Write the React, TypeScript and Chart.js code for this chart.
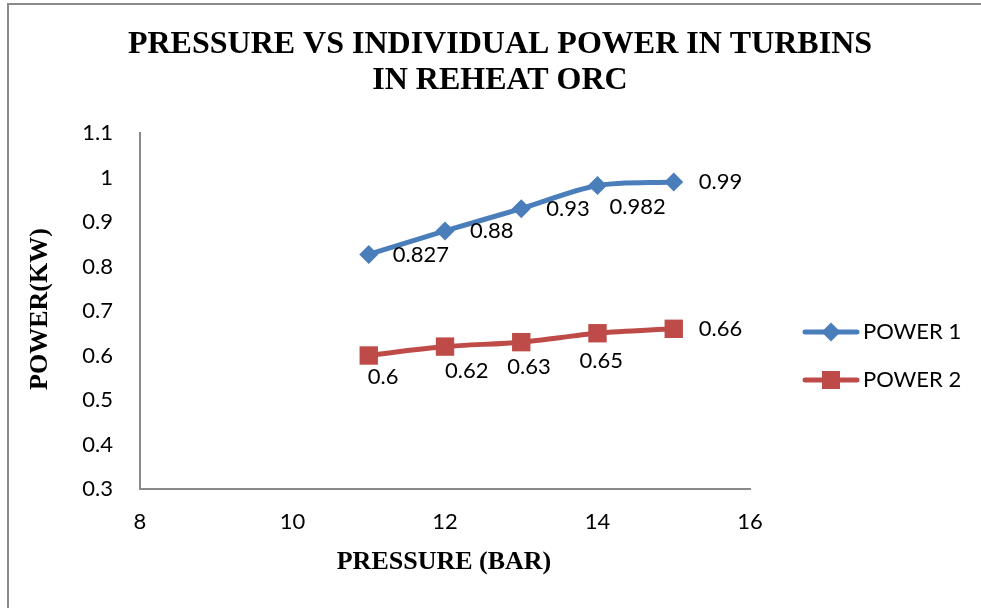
import React, { useEffect, useRef } from "react";
import { Chart, registerables } from "chart.js";

Chart.register(...registerables);

const pressure = [11, 12, 13, 14, 15];
const power1 = [0.827, 0.88, 0.93, 0.982, 0.99];
const power2 = [0.6, 0.62, 0.63, 0.65, 0.66];
const seriesNames = ["POWER 1", "POWER 2"];
const titleLines = ["PRESSURE VS INDIVIDUAL POWER IN TURBINS", "IN REHEAT ORC"];
const xTitle = "PRESSURE (BAR)";
const yTitle = "POWER(KW)";

// label offsets (left edge dx, centre dy) relative to each point, as dragged in the original
const labelOffsets1 = [[24, 0], [25, 0], [25, 0], [12, 21], [25, 0]];
const labelOffsets2 = [[-1, 21], [0, 24], [-14, 25], [-18, 28], [25, 0]];

const BLUE = "#4A7EBB";
const RED = "#BE4B48";
const TICK_FONT = "Lato";
const SERIF = "'Liberation Serif', 'Times New Roman', serif";

const decorPlugin = {
  id: "decor",
  beforeDraw(chart: any) {
    const { ctx, width, height } = chart;
    ctx.save();
    ctx.fillStyle = "#fff";
    ctx.fillRect(0, 0, width, height);
    ctx.strokeStyle = "#8a8a8a";
    ctx.lineWidth = 2;
    ctx.beginPath();
    ctx.moveTo(8, height + 5);
    ctx.lineTo(8, 4);
    ctx.lineTo(width + 5, 4);
    ctx.stroke();
    ctx.restore();
  },
  afterDraw(chart: any) {
    const { ctx } = chart;
    ctx.save();
    ctx.fillStyle = "#000";
    ctx.textAlign = "center";
    ctx.textBaseline = "middle";
    ctx.font = `bold 32px ${SERIF}`;
    ctx.fillText(titleLines[0], 500, 45);
    ctx.fillText(titleLines[1], 500, 81);
    ctx.font = `bold 26px ${SERIF}`;
    ctx.fillText(xTitle, 444, 562);
    ctx.save();
    ctx.translate(40, 309);
    ctx.rotate(-Math.PI / 2);
    ctx.fillText(yTitle, 0, 0);
    ctx.restore();

    // data labels
    ctx.font = `22px ${TICK_FONT}`;
    ctx.textAlign = "left";
    const offs = [labelOffsets1, labelOffsets2];
    chart.data.datasets.forEach((ds: any, di: number) => {
      const meta = chart.getDatasetMeta(di);
      meta.data.forEach((pt: any, i: number) => {
        const v = ds.data[i].y;
        const [dx, dy] = offs[di][i];
        ctx.fillText(String(v), pt.x + dx, pt.y + dy);
      });
    });

    // legend
    const legendRows = [332, 380];
    chart.data.datasets.forEach((ds: any, di: number) => {
      const y = legendRows[di];
      ctx.strokeStyle = ds.borderColor;
      ctx.lineWidth = 5;
      ctx.lineCap = "round";
      ctx.beginPath();
      ctx.moveTo(805, y);
      ctx.lineTo(857, y);
      ctx.stroke();
      ctx.fillStyle = ds.borderColor;
      ctx.beginPath();
      if (di === 0) {
        const r = 9.5;
        ctx.moveTo(831, y - r);
        ctx.lineTo(831 + r, y);
        ctx.lineTo(831, y + r);
        ctx.lineTo(831 - r, y);
        ctx.closePath();
        ctx.fill();
      } else {
        ctx.fillRect(831 - 9, y - 9, 18, 18);
      }
      ctx.fillStyle = "#000";
      ctx.font = `22px ${TICK_FONT}`;
      ctx.textAlign = "left";
      ctx.textBaseline = "middle";
      ctx.fillText(seriesNames[di], 863, y);
    });
    ctx.restore();
  },
};

export default function App() {
  const ref = useRef<HTMLCanvasElement>(null);
  useEffect(() => {
    document.body.style.margin = "0";
    const canvas = ref.current!;
    const chart = new Chart(canvas, {
      type: "line",
      data: {
        datasets: [
          {
            label: seriesNames[0],
            data: pressure.map((x, i) => ({ x, y: power1[i] })),
            borderColor: BLUE,
            backgroundColor: BLUE,
            borderWidth: 5,
            tension: 0.3,
            pointStyle: "rectRot",
            pointRadius: 9.5,
            pointBorderWidth: 0,
            pointBackgroundColor: BLUE,
          },
          {
            label: seriesNames[1],
            data: pressure.map((x, i) => ({ x, y: power2[i] })),
            borderColor: RED,
            backgroundColor: RED,
            borderWidth: 5,
            tension: 0.3,
            pointStyle: "rect",
            pointRadius: 13,
            pointBorderWidth: 0,
            pointBackgroundColor: RED,
          },
        ],
      },
      options: {
        responsive: false,
        animation: false,
        events: [],
        layout: { padding: { top: 133, right: 231, left: 0, bottom: 0 } },
        plugins: { legend: { display: false }, title: { display: false }, tooltip: { enabled: false } },
        scales: {
          x: {
            type: "linear",
            min: 8,
            max: 16,
            afterFit: (s: any) => { s.height = 119; },
            grid: { display: false, drawTicks: false },
            border: { display: true, color: "#8a8a8a", width: 2 },
            ticks: {
              stepSize: 2,
              padding: 20,
              color: "#000",
              font: { family: TICK_FONT, size: 22 },
              maxRotation: 0,
            },
          },
          y: {
            type: "linear",
            min: 0.3,
            max: 1.1,
            afterFit: (s: any) => { s.width = 140; },
            grid: { display: false, drawTicks: false },
            border: { display: true, color: "#8a8a8a", width: 2 },
            ticks: {
              stepSize: 0.1,
              padding: 27,
              color: "#000",
              font: { family: TICK_FONT, size: 22 },
              callback: (v: any) => String(Number(Number(v).toFixed(1))),
            },
          },
        },
      },
      plugins: [decorPlugin],
    });
    return () => chart.destroy();
  }, []);
  return <canvas ref={ref} width={981} height={608} style={{ display: "block" }} />;
}
